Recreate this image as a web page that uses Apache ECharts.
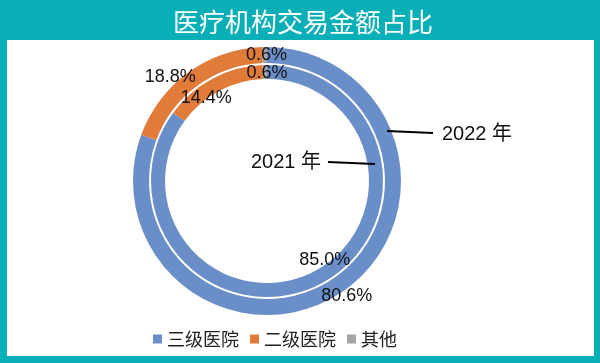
<!DOCTYPE html>
<html><head><meta charset="utf-8">
<script src="https://cdn.jsdelivr.net/npm/echarts@6/dist/echarts.min.js"></script>
<style>html,body{margin:0;padding:0;background:#09AFB7}#c{width:600px;height:363px}</style>
</head><body><div id="c"></div>
<script>
const categories = ['三级医院', '二级医院', '其他'];
const values2022 = [80.6, 18.8, 0.6];
const values2021 = [85.0, 14.4, 0.6];
const colors = ['#6A8FC8', '#E07B39', '#A5A5A5'];
const titleText = '医疗机构交易金额占比';
const ringLabels = ['2022 年', '2021 年'];

const font = '"Liberation Sans", "Noto Sans CJK SC", sans-serif';
const outerOffsets = [[6, 9], [-21, 0], [2, 3]];
const innerOffsets = [[7, -21], [-8, 16], [2, 4]];

function makeData(vals, offs) {
  return vals.map((v, i) => ({
    name: categories[i], value: v,
    itemStyle: { color: colors[i] },
    label: { offset: offs[i] }
  }));
}

const chart = echarts.init(document.getElementById('c'), null, { renderer: 'canvas' });
const labelCommon = {
  show: true, position: 'inside', color: '#111', fontSize: 18, fontFamily: font,
  formatter: p => p.value.toFixed(1) + '%'
};
chart.setOption({
  backgroundColor: '#09AFB7',
  animation: false,
  graphic: [
    { type: 'rect', z: -10, shape: { x: 7, y: 40, width: 587, height: 316 }, style: { fill: '#ffffff' } },
    { type: 'text', x: 303, y: 9, style: { text: titleText, fill: '#ffffff', fontSize: 26, align: 'center', fontFamily: '"Noto Sans CJK SC", sans-serif' } },
    { type: 'line', shape: { x1: 387, y1: 131, x2: 433, y2: 133 }, style: { stroke: '#000', lineWidth: 2 }, z: 100 },
    { type: 'text', x: 442, y: 124, style: { text: ringLabels[0], fill: '#111', fontSize: 20, fontFamily: font } },
    { type: 'line', shape: { x1: 328, y1: 162, x2: 375, y2: 164 }, style: { stroke: '#000', lineWidth: 2 }, z: 100 },
    { type: 'text', x: 251, y: 152, style: { text: ringLabels[1], fill: '#111', fontSize: 20, fontFamily: font } }
  ],
  legend: {
    left: 148, top: 325, itemWidth: 9, itemHeight: 9, itemGap: 11, icon: 'rect',
    data: categories,
    textStyle: { color: '#222', fontSize: 18, fontFamily: '"Noto Sans CJK SC", sans-serif' }
  },
  series: [
    {
      name: '2022', type: 'pie', center: [267, 181], radius: [118, 134], startAngle: 90,
      clockwise: true, label: labelCommon, labelLine: { show: false },
      emphasis: { disabled: true },
      data: makeData(values2022, outerOffsets)
    },
    {
      name: '2021', type: 'pie', center: [267, 181], radius: [102, 116], startAngle: 90,
      clockwise: true, label: labelCommon, labelLine: { show: false },
      emphasis: { disabled: true },
      data: makeData(values2021, innerOffsets)
    }
  ]
});
</script></body></html>
